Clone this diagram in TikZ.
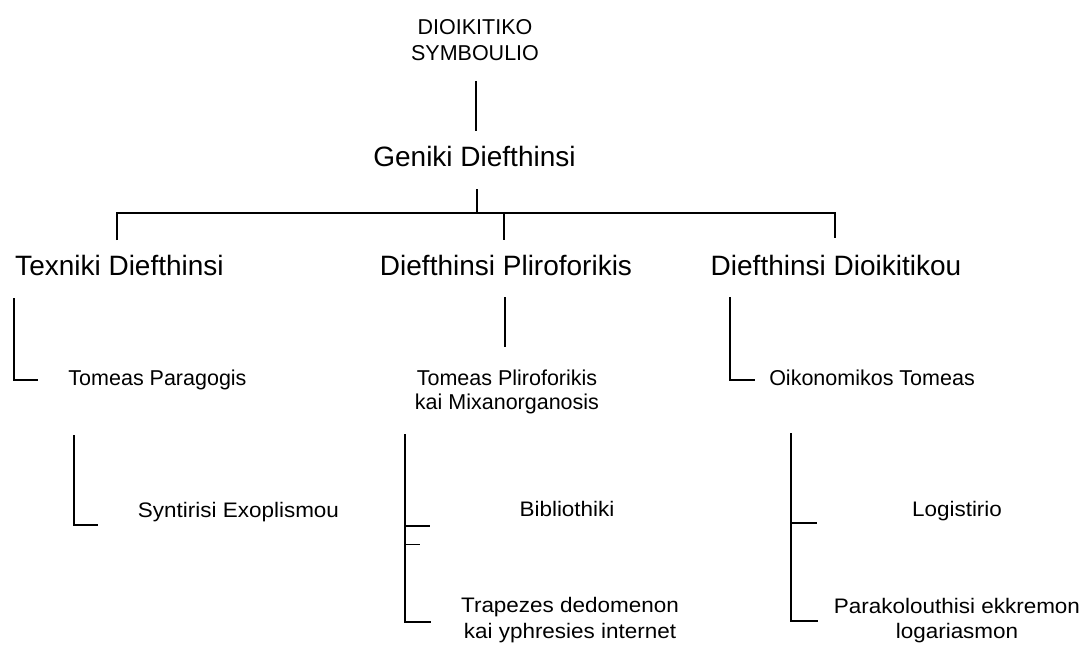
\documentclass[tikz,border=0pt]{standalone}
\usepackage{fontspec}
\setmainfont{Liberation Sans}
\newfontfamily\fstretch[FakeStretch=1.07]{Liberation Sans}
\begin{document}
\begin{tikzpicture}[x=1pt,y=-1pt,
  every node/.style={inner sep=0pt,outer sep=0pt,anchor=base},
  toptxt/.style={font=\fontsize{21.5}{24}\selectfont},
  lvlone/.style={font=\fontsize{28}{30}\selectfont},
  lvltwo/.style={font=\fontsize{21.5}{24}\selectfont},
  lvlthree/.style={font=\fstretch\fontsize{21}{24}\selectfont},
  conn/.style={line width=1.7pt,line join=miter},
  faint/.style={line width=0.8pt}]
\useasboundingbox (0,0) rectangle (1091,650);
% nodes
\node[toptxt] (ds1) at (475,35) {DIOIKITIKO};
\node[toptxt] (ds2) at (475,61) {SYMBOULIO};
\node[lvlone] (gen) at (474.5,166) {Geniki Diefthinsi};
\node[lvlone] (tex) at (119.5,275) {Texniki Diefthinsi};
\node[lvlone] (pli) at (506,275) {Diefthinsi Pliroforikis};
\node[lvlone] (dio) at (836,275) {Diefthinsi Dioikitikou};
\node[lvltwo] (par) at (157.5,385) {Tomeas Paragogis};
\node[lvltwo] (tp1) at (507,385) {Tomeas Pliroforikis};
\node[lvltwo] (tp2) at (507,409) {kai Mixanorganosis};
\node[lvltwo] (oik) at (872,385) {Oikonomikos Tomeas};
\node[lvlthree] (syn) at (238.5,517) {Syntirisi Exoplismou};
\node[lvlthree] (bib) at (567,516) {Bibliothiki};
\node[lvlthree] (tr1) at (570,612) {Trapezes dedomenon};
\node[lvlthree] (tr2) at (570,638) {kai yphresies internet};
\node[lvlthree] (log) at (957,516) {Logistirio};
\node[lvlthree] (pa1) at (957,613) {Parakolouthisi ekkremon};
\node[lvlthree] (pa2) at (957,638) {logariasmon};
% coordinates
\coordinate (a1) at (476,81);  \coordinate (a2) at (476,131);
\coordinate (g1) at (477,189); \coordinate (g2) at (477,213);
\coordinate (hl) at (117,213); \coordinate (hr) at (835,213);
\coordinate (hm) at (504,213);
\coordinate (tl) at (117,240); \coordinate (tr) at (835,238);
\coordinate (tm) at (504,240);
\coordinate (l1) at (14,298);  \coordinate (l2) at (14,380);  \coordinate (l3) at (38,380);
\coordinate (m1) at (505,297); \coordinate (m2) at (505,347);
\coordinate (r1) at (730,297); \coordinate (r2) at (730,380); \coordinate (r3) at (755,380);
\coordinate (s1) at (74,435);  \coordinate (s2) at (74,525);  \coordinate (s3) at (98,525);
\coordinate (b1) at (405,434); \coordinate (b2) at (405,622); \coordinate (b3) at (431,622);
\coordinate (bt) at (405,526); \coordinate (bt2) at (430,526);
\coordinate (bf) at (405,544); \coordinate (bf2) at (420,544);
\coordinate (k1) at (791,433); \coordinate (k2) at (791,621); \coordinate (k3) at (818,621);
\coordinate (kt) at (791,523); \coordinate (kt2) at (817,523);
% connectors
\draw[conn] (a1) -- (a2);
\draw[conn] (g1) -- (g2);
\draw[conn] (tl) -- (hl) -- (hr) -- (tr);
\draw[conn] (hm) -- (tm);
\draw[conn] (l1) -- (l2) -- (l3);
\draw[conn] (m1) -- (m2);
\draw[conn] (r1) -- (r2) -- (r3);
\draw[conn] (s1) -- (s2) -- (s3);
\draw[conn] (b1) -- (b2) -- (b3);
\draw[conn] (bt) -- (bt2);
\draw[faint] (bf) -- (bf2);
\draw[conn] (k1) -- (k2) -- (k3);
\draw[conn] (kt) -- (kt2);
\end{tikzpicture}
\end{document}
